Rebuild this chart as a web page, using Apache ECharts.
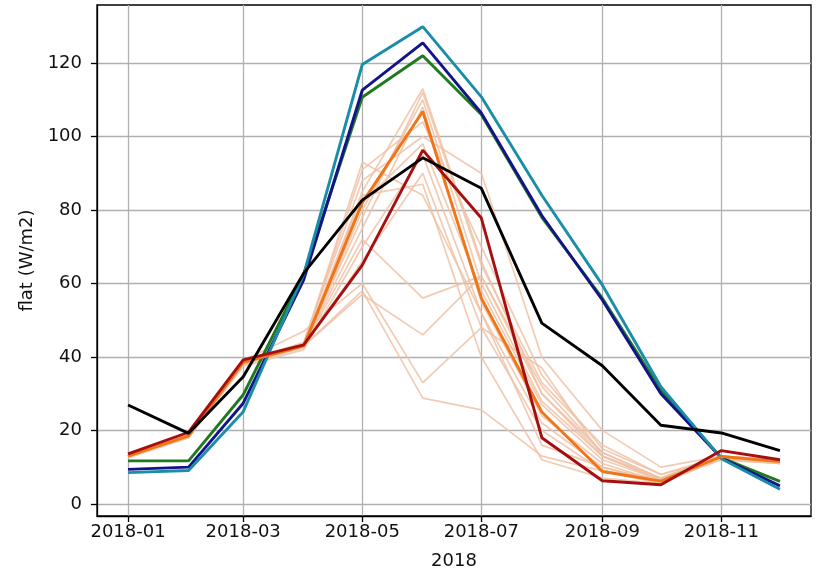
<!DOCTYPE html>
<html>
<head>
<meta charset="utf-8">
<script src="https://cdn.jsdelivr.net/npm/echarts@6/dist/echarts.min.js"></script>
<style>html,body{margin:0;padding:0;background:#fff;}#c{width:819px;height:568px;}</style>
</head>
<body>
<div id="c"></div>
<script>
// ---- data ----
const months = ['2018-01','2018-02','2018-03','2018-04','2018-05','2018-06','2018-07','2018-08','2018-09','2018-10','2018-11','2018-12'];
const xTickLabels = ['2018-01','2018-03','2018-05','2018-07','2018-09','2018-11'];
const yTicks = [0, 20, 40, 60, 80, 100, 120];

const tealLine   = [8.5, 9.1, 25.1, 62.5, 119.6, 129.9, 110.8, 84, 59.6, 31.9, 12.3, 4.0];
const blueLine   = [9.4, 10.0, 27.4, 61, 112.6, 125.5, 106.4, 78.5, 55.5, 30.0, 12.5, 4.9];
const greenLine  = [11.7, 11.7, 29.7, 62.5, 110.7, 122.0, 106, 78, 56, 31, 12.5, 6.1];
const orangeLine = [13.0, 18.5, 38.5, 43, 82, 106.8, 56, 25, 8.8, 6.2, 12.9, 11.5];
const redLine    = [13.6, 19.5, 39.2, 43.3, 65, 96.3, 77.8, 18, 6.3, 5.2, 14.5, 12.0];
const blackLine  = [26.9, 19.2, 34.6, 62.8, 82.7, 94.2, 85.9, 49.2, 37.6, 21.4, 19.3, 14.5];

const member01 = [13, 18.5, 38.5, 43, 85, 113, 66, 30, 14, 7, 13, 11.5];
const member02 = [13, 18, 38, 42.5, 80, 110, 60, 28, 13, 6.5, 12.5, 11];
const member03 = [13, 18.5, 38, 43, 75, 108, 55, 24, 11, 6, 13, 11.5];
const member04 = [13.5, 19, 39, 43.5, 91, 104, 70, 35, 15, 8, 12.5, 11];
const member05 = [13, 18, 38.5, 44, 88, 100, 90, 40, 20, 10, 13, 12];
const member06 = [12.5, 18, 37.5, 42, 70, 95, 52, 22, 10, 6, 12, 11];
const member07 = [13, 18.5, 38, 43, 66, 90, 48, 20, 9, 5.5, 12.5, 11.5];
const member08 = [13, 18.5, 38.5, 43, 72, 56, 62, 32, 14, 7, 13, 11.5];
const member09 = [13, 18.5, 38.5, 43, 57, 46, 62, 30, 13, 7, 13, 11.5];
const member10 = [13, 19, 39, 47, 60, 33, 48, 37, 13, 6.5, 12, 11];
const member11 = [13, 18.5, 38, 43, 58, 28.8, 25.6, 13, 9, 7, 13, 11.5];
const member12 = [13, 18.5, 38, 43, 84, 87, 40, 12, 7, 5.5, 12.5, 11];
const member13 = [13, 18.5, 38.5, 43, 78, 112, 65, 33, 16, 8, 13, 12];
const member14 = [13, 18.5, 38.5, 43.5, 93, 84, 52, 16, 10, 6, 13, 11.5];
const member15 = [13, 18.5, 38, 43, 82, 98, 58, 27, 12, 6.5, 13, 11.5];
const members = [member01, member02, member03, member04, member05, member06, member07, member08,
                 member09, member10, member11, member12, member13, member14, member15];
const greenSpread = 1.8;

// ---- helpers ----
function ts(label) { const p = label.split('-'); return Date.UTC(+p[0], +p[1] - 1, 1); }
const monthTs = months.map(ts);
const xTickTs = xTickLabels.map(ts);
function pairs(arr) { return arr.map((v, i) => [monthTs[i], v]); }

const FONT = 'DejaVu Sans';
const series = [];
members.forEach((m, i) => series.push({
  name: 'member' + (i + 1), type: 'line', data: pairs(m), symbol: 'none',
  lineStyle: { color: '#efc2a6', width: 1.7, opacity: 0.85 }, z: 2, silent: true
}));
series.push({ name: 'gLow', type: 'line', stack: 'gband', data: pairs(greenLine.map(v => v - greenSpread)),
  symbol: 'none', lineStyle: { width: 0 }, z: 3, silent: true });
series.push({ name: 'gBand', type: 'line', stack: 'gband', data: pairs(greenLine.map(() => 2 * greenSpread)),
  symbol: 'none', lineStyle: { width: 0 }, areaStyle: { color: 'rgba(150,205,200,0.55)', origin: 'auto' }, z: 3, silent: true });
const main = [
  ['green', greenLine, '#1f7a1f'],
  ['blue', blueLine, '#14148a'],
  ['teal', tealLine, '#1a8ea8'],
  ['orange', orangeLine, '#f07418'],
  ['red', redLine, '#a50f0f'],
  ['black', blackLine, '#000000']
];
main.forEach((s, i) => series.push({
  name: s[0], type: 'line', data: pairs(s[1]), symbol: 'none',
  lineStyle: { color: s[2], width: 2.9 }, z: 4 + i, silent: true
}));

const chart = echarts.init(document.getElementById('c'), null, { renderer: 'canvas' });
chart.setOption({
  animation: false,
  backgroundColor: '#ffffff',
  grid: { left: 97, right: 8, top: 5, bottom: 52, outerBoundsMode: 'none', containLabel: false,
          show: true, borderColor: '#000', borderWidth: 1.3, backgroundColor: 'transparent' },
  xAxis: {
    type: 'value',
    min: Date.UTC(2017, 11, 16, 2),
    max: Date.UTC(2018, 11, 16, 22),
    name: '2018', nameLocation: 'middle', nameGap: 36,
    nameTextStyle: { fontFamily: FONT, fontSize: 18, color: '#111' },
    axisLine: { show: true, onZero: false, lineStyle: { color: '#000', width: 1.3 } },
    axisTick: { show: true, length: 6, lineStyle: { color: '#000', width: 1.3 }, customValues: xTickTs },
    axisLabel: { fontFamily: FONT, fontSize: 18, color: '#111', margin: 7, customValues: xTickTs,
      formatter: v => { const i = xTickTs.indexOf(v); return i >= 0 ? xTickLabels[i] : ''; } },
    splitLine: { show: true, lineStyle: { color: '#b0b0b0', width: 1.3 } }
  },
  yAxis: {
    type: 'value', min: -3.3, max: 135.8,
    name: 'flat (W/m2)', nameLocation: 'middle', nameGap: 58, nameRotate: 90,
    nameTextStyle: { fontFamily: FONT, fontSize: 18, color: '#111' },
    axisLine: { show: true, onZero: false, lineStyle: { color: '#000', width: 1.3 } },
    axisTick: { show: true, length: 6, lineStyle: { color: '#000', width: 1.3 }, customValues: yTicks },
    axisLabel: { fontFamily: FONT, fontSize: 18, color: '#111', margin: 15, customValues: yTicks },
    splitLine: { show: true, lineStyle: { color: '#b0b0b0', width: 1.3 } }
  },
  series: series
});
</script>
</body>
</html>
